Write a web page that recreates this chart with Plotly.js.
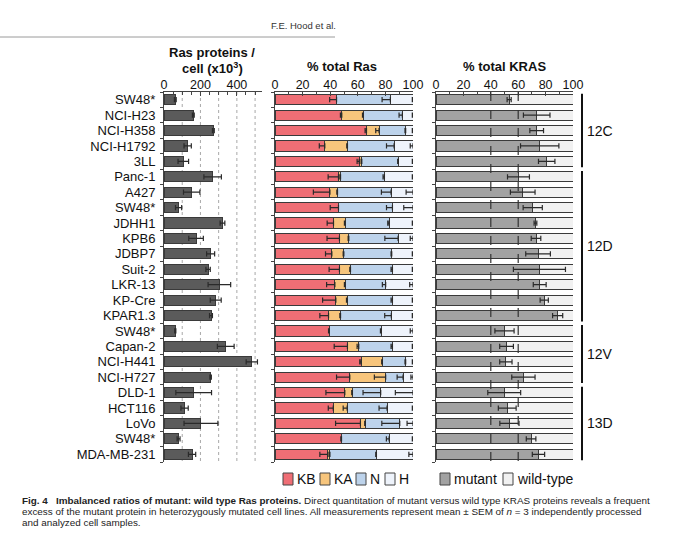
<!DOCTYPE html>
<html>
<head>
<meta charset="utf-8">
<script src="https://cdn.plot.ly/plotly-3.0.1.min.js"></script>
<style>
html,body{margin:0;padding:0;background:#fff;}
#chart{width:680px;height:535px;}
</style>
</head>
<body>
<div id="chart"></div>
<script>
// ---------------- DATA ----------------
const cellLines = ['SW48*','NCI-H23','NCI-H358','NCI-H1792','3LL','Panc-1','A427','SW48*','JDHH1','KPB6','JDBP7','Suit-2','LKR-13','KP-Cre','KPAR1.3','SW48*','Capan-2','NCI-H441','NCI-H727','DLD-1','HCT116','LoVo','SW48*','MDA-MB-231'];

// Ras proteins per cell (x10^3)
const rasPerCell = [62,161,271,130,106,267,152,80,321,176,256,242,304,284,258,62,339,482,256,163,113,203,80,154];
const rasPerCellErr = [5,5,5,20,29,48,45,17,13,40,22,12,62,30,8,3,46,31,4,98,20,93,8,20];
const rasTickVals = [0,200,400];
const rasGridVals = [100,200,300,400,500];

// % total Ras
const pctKB = [44.6,48.4,66.3,36.1,61.0,46.0,39.8,46.0,42.4,46.7,41.2,46.7,43.4,44.1,38.8,39.3,52.5,62.4,54.2,50.6,42.2,61.9,48.2,38.3];
const pctKA = [0,15.5,9.1,16.4,1.9,1.5,5.5,0,8.4,6.8,8.7,8.0,7.4,8.2,8.7,0,8.2,15.4,26.0,5.5,10.1,3.6,0,1.5];
const pctN  = [39.0,28.4,19.3,33.8,26.5,31.8,38.8,39.1,31.9,35.7,34.7,30.4,29.4,32.8,36.8,37.6,24.4,16.9,12.6,20.5,28.9,24.9,34.5,33.7];
const pctH  = [16.4,7.7,5.3,13.7,10.6,20.7,15.9,14.9,17.3,10.8,15.4,14.9,19.8,14.9,15.7,23.1,14.9,5.3,7.2,23.4,18.8,9.6,17.3,26.5];
const errKB = [5,1,1,4,1.5,7.5,12,6,4.6,9,4.6,7.5,6,9.6,6.3,0.5,9.6,1,9.6,13.7,3.6,18,0.5,5.8];
const errKA = [null,0.5,2.4,0.5,0.5,0.5,0.5,null,0.5,0.5,0.5,0.5,0.5,0.5,0.5,null,1.2,0.5,8.2,0.5,2.9,0.5,null,0.5];
const errN  = [6,2.4,0.5,5.5,0.5,1,7,4.3,1,9.6,0.5,1,2.4,1,4.8,0.5,1,0.5,4.3,12.8,5.8,13,2,0.5];
const errH  = [0.5,0.5,0.5,2,0.5,0.5,5,6.7,0.5,2,0.5,0.5,2.4,0.5,0.5,2,0.5,0.5,1.5,12.8,0.5,4.3,0.5,3];
const pctTickVals = [0,20,40,60,80,100];

// % total KRAS
const pctMutant = [53.4,73.5,73.5,75.7,80.8,60.2,63.3,70.6,72.6,73.0,74.5,75.5,75.7,79.0,88.8,50.0,51.5,51.0,63.8,49.8,52.0,53.6,69.4,74.8];
const pctWild   = [46.6,26.5,26.5,24.3,19.2,39.8,36.7,29.4,27.4,27.0,25.5,24.5,24.3,21.0,11.2,50.0,48.5,49.0,36.2,50.2,48.0,46.4,30.6,25.2];
const mutErr    = [1.5,9.7,5,14,6,8,9,7,1,3.5,9,19,4.7,3,3.7,7,5,4.5,8.5,12,6.5,7,3.5,4.5];
const krasRefLines = [40, 60];

const groups = [
  {label:'12C', from:0, to:4},
  {label:'12D', from:5, to:14},
  {label:'12V', from:15, to:18},
  {label:'13D', from:19, to:23}
];
const segNames = ['KB','KA','N','H'];
const kNames = ['mutant','wild-type'];

// ---------------- STYLE ----------------
const W = 680, H = 535;
const FONT = 'Liberation Sans, Arial, sans-serif';
const colKB = '#ef6e75', colKA = '#f7c57c', colN = '#bdd3eb', colH = '#eef3fb';
const colMut = '#a2a2a2', colWild = '#f1f1f1', colLeft = '#5b5b5b';
const edge = '#3a3a3a';
const px = v => v / W;
const py = v => 1 - v / H;
const idx = cellLines.map((_, i) => i);
const barW = 0.66;
const ydom = [py(462), py(92)];

function bar(x, color, xa, ya, name) {
  return {type:'bar', orientation:'h', x:x, y:idx, width:barW, name:name,
    marker:{color:color, line:{color:edge, width:1}}, xaxis:xa, yaxis:ya, hoverinfo:'skip'};
}
function errTrace(x, minus, plus, xa, ya) {
  return {type:'scatter', mode:'markers', x:x, y:idx, xaxis:xa, yaxis:ya,
    marker:{size:2, opacity:0}, hoverinfo:'skip',
    error_x:{type:'data', symmetric:false, array:plus, arrayminus:minus,
      color:'#2a2a2a', thickness:1.2, width:2.6}};
}

const traces = [];
// Left panel
traces.push(bar(rasPerCell, colLeft, 'x', 'y', 'Ras'));
traces.push(errTrace(rasPerCell, rasPerCellErr, rasPerCellErr, 'x', 'y'));
// Middle panel (stacked)
traces.push(bar(pctKB, colKB, 'x2', 'y2', segNames[0]));
traces.push(bar(pctKA, colKA, 'x2', 'y2', segNames[1]));
traces.push(bar(pctN, colN, 'x2', 'y2', segNames[2]));
traces.push(bar(pctH, colH, 'x2', 'y2', segNames[3]));
const endKB = pctKB.slice();
const endKA = pctKB.map((v, i) => pctKA[i] > 0 ? v + pctKA[i] : null);
const endN = pctKB.map((v, i) => v + pctKA[i] + pctN[i]);
const endH = pctKB.map((v, i) => v + pctKA[i] + pctN[i] + pctH[i]);
const zeros = idx.map(() => 0);
traces.push(errTrace(endKB, errKB, zeros, 'x2', 'y2'));
traces.push(errTrace(endKA, errKA, zeros, 'x2', 'y2'));
traces.push(errTrace(endN, errN, zeros, 'x2', 'y2'));
traces.push(errTrace(endH, errH, zeros, 'x2', 'y2'));
// Right panel (stacked)
traces.push(bar(pctMutant, colMut, 'x3', 'y3', kNames[0]));
traces.push(bar(pctWild, colWild, 'x3', 'y3', kNames[1]));
traces.push(errTrace(pctMutant, mutErr, mutErr, 'x3', 'y3'));

const tickFont = {family:FONT, size:12.5, color:'#111'};
function xax(domain, range, tickvals, minorDtick, extra) {
  return Object.assign({domain:domain, range:range, side:'top', tickvals:tickvals, ticktext:tickvals.map(String),
    ticks:'inside', ticklen:4, tickcolor:'#444', tickwidth:1, showline:true, linecolor:'#444', linewidth:1,
    zeroline:false, showgrid:false, tickfont:tickFont, fixedrange:true, ticklabelstandoff:-3,
    minor:{dtick:minorDtick, ticks:'inside', ticklen:3, tickcolor:'#444', showgrid:false}}, extra||{});
}
function yax(anchor, labels) {
  const o = {domain:ydom, range:[23.5, -0.5], anchor:anchor, tickvals:idx, showline:true,
    linecolor:'#444', linewidth:1, zeroline:false, showgrid:false, fixedrange:true,
    minor:{tick0:0.5, dtick:1, ticks:'outside', ticklen:3, tickcolor:'#444'}};
  if (labels) {
    o.ticktext = labels; o.ticks = 'outside'; o.ticklen = 5; o.tickcolor = 'rgba(0,0,0,0)';
    o.tickfont = {family:FONT, size:13, color:'#111'};
  } else {
    o.showticklabels = false; o.ticks = '';
  }
  return o;
}

const layout = {
  width:W, height:H, margin:{l:0, r:0, t:0, b:0}, paper_bgcolor:'#fff', plot_bgcolor:'rgba(0,0,0,0)',
  showlegend:false, barmode:'stack',
  xaxis: xax([px(164), px(262)], [0, 538], rasTickVals, 50, {anchor:'y'}),
  yaxis: yax('x', cellLines),
  xaxis2: xax([px(275), px(413)], [0, 100], pctTickVals, 10, {anchor:'y2'}),
  yaxis2: yax('x2', null),
  xaxis3: xax([px(436), px(573)], [0, 100], pctTickVals, 10, {anchor:'y3'}),
  yaxis3: yax('x3', null),
  shapes: [],
  annotations: []
};

// dotted grid in left panel
rasGridVals.forEach(v => layout.shapes.push({type:'line', xref:'x', yref:'y', x0:v, x1:v, y0:-0.5, y1:23.5,
  line:{color:'#a8a8a8', width:1, dash:'dot'}, layer:'below'}));

// dashed reference lines in right panel
krasRefLines.forEach(v => layout.shapes.push({type:'line', xref:'x3', yref:'y3', x0:v, x1:v, y0:-0.5, y1:23.7,
  line:{color:'#333', width:1.2, dash:'dash'}, layer:'above'}));

// group brackets
groups.forEach(g => {
  layout.shapes.push({type:'line', xref:'paper', yref:'y3', x0:px(582), x1:px(582), y0:g.from - 0.38, y1:g.to + 0.38,
    line:{color:'#111', width:2}});
  layout.annotations.push({xref:'paper', yref:'y3', x:px(585), y:(g.from + g.to) / 2, text:g.label, showarrow:false,
    xanchor:'left', yanchor:'middle', font:{family:FONT, size:14, color:'#111'}});
});

// panel titles
const titleFont = {family:FONT, size:13, color:'#111'};
function txt(x, y, text, font, xanchor) {
  layout.annotations.push({xref:'paper', yref:'paper', x:px(x), y:py(y), text:text, showarrow:false,
    xanchor:xanchor || 'center', yanchor:'middle', align:xanchor === 'left' ? 'left' : 'center', font:font});
}
txt(212, 53, '<b>Ras proteins /</b>', titleFont);
txt(212, 68, '<b>cell (x10<sup>3</sup>)</b>', titleFont);
txt(342, 67, '<b>% total Ras</b>', titleFont);
txt(504, 67, '<b>% total KRAS</b>', titleFont);

// legend (manual)
const legItems = [
  {name:segNames[0], color:colKB, x:283},
  {name:segNames[1], color:colKA, x:320},
  {name:segNames[2], color:colN, x:356},
  {name:segNames[3], color:colH, x:385},
  {name:kNames[0], color:colMut, x:440},
  {name:kNames[1], color:colWild, x:503}
];
legItems.forEach(it => {
  layout.shapes.push({type:'rect', xref:'paper', yref:'paper', x0:px(it.x), x1:px(it.x + 10), y0:py(485), y1:py(473),
    fillcolor:it.color, line:{color:'#444', width:1}});
  txt(it.x + 12, 479, it.name, {family:FONT, size:14, color:'#111'}, 'left');
});

// header
layout.shapes.push({type:'line', xref:'paper', yref:'paper', x0:0, x1:px(335), y0:py(37), y1:py(37), line:{color:'#9a9a9a', width:1}});
txt(303, 25, 'F.E. Hood et al.', {family:FONT, size:9.5, color:'#333'});

// caption
const capFont = {family:FONT, size:9.9, color:'#222'};
const capLines = [
  '<b>Fig. 4\u00a0\u00a0\u00a0Imbalanced ratios of mutant: wild type Ras proteins.</b> Direct quantitation of mutant versus wild type KRAS proteins reveals a frequent',
  'excess of the mutant protein in heterozygously mutated cell lines. All measurements represent mean ± SEM of <i>n</i> = 3 independently processed',
  'and analyzed cell samples.'
];
capLines.forEach((t, i) => txt(20, 500 + i * 11, t, capFont, 'left'));

Plotly.newPlot('chart', traces, layout, {displayModeBar:false, staticPlot:true});
</script>
</body>
</html>
